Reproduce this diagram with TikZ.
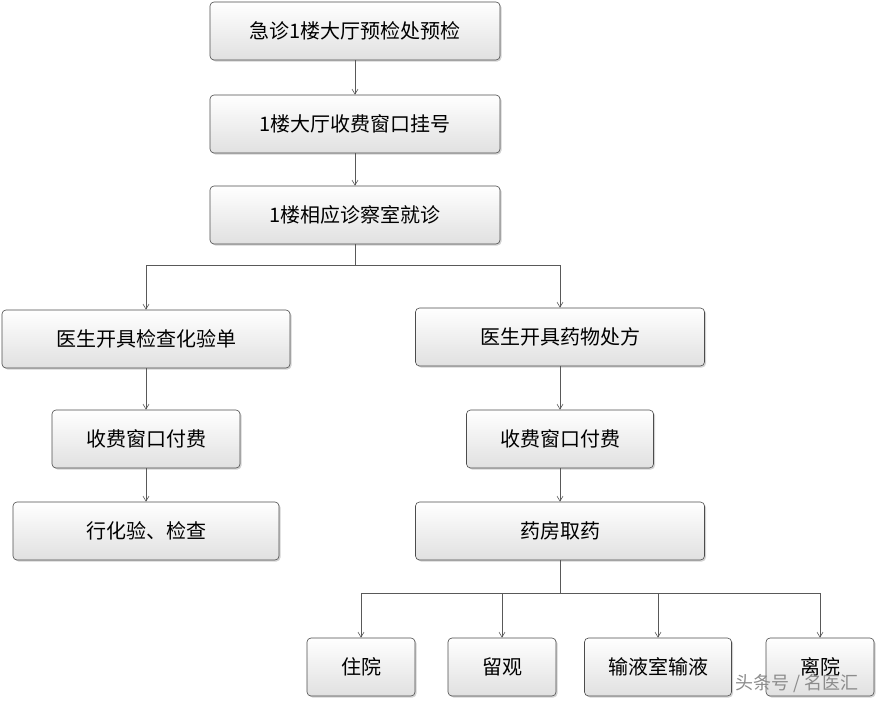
\documentclass[tikz,border=0pt]{standalone}
\usepackage{fontspec}
\setmainfont{Noto Sans CJK SC}
\usetikzlibrary{arrows.meta,shadows}
\begin{document}
\begin{tikzpicture}[x=1pt,y=-1pt,
 box/.style={draw=black!70,line width=0.6pt,rounded corners=4pt,top color=white,bottom color=black!12,
   drop shadow={shadow xshift=1.5pt,shadow yshift=-1.5pt,opacity=0.35},
   minimum height=58pt,inner sep=0pt,font=\fontsize{20}{24}\selectfont},
 arr/.style={draw=black!65,line width=0.6pt,-{Straight Barb[length=5pt,width=6pt]}},
 ln/.style={draw=black!65,line width=0.6pt}]
\useasboundingbox (0,0) rectangle (877,701);
\node[box,minimum width=290pt] (a) at (355,31) {急诊1楼大厅预检处预检};
\node[box,minimum width=290pt] (b) at (355,124) {1楼大厅收费窗口挂号};
\node[box,minimum width=290pt] (c) at (355,215) {1楼相应诊察室就诊};
\node[box,minimum width=288pt] (d) at (146,339) {医生开具检查化验单};
\node[box,minimum width=289pt] (e) at (560,337) {医生开具药物处方};
\node[box,minimum width=188pt] (f) at (146,439) {收费窗口付费};
\node[box,minimum width=266pt] (g) at (146,531) {行化验、检查};
\node[box,minimum width=187pt] (h) at (560,439) {收费窗口付费};
\node[box,minimum width=289pt] (i) at (560,531) {药房取药};
\node[box,minimum width=108pt] (j) at (361,667) {住院};
\node[box,minimum width=108pt] (k) at (502,667) {留观};
\node[box,minimum width=147pt] (l) at (658,667) {输液室输液};
\node[box,minimum width=108pt] (m) at (820,667) {离院};
\coordinate (s1) at (355,265);
\coordinate (s2) at (560,593);
\draw[arr] (a) -- (b);
\draw[arr] (b) -- (c);
\draw[ln] (c.south) -- (s1);
\draw[arr] (s1) -| (d.north);
\draw[arr] (s1) -| (e.north);
\draw[arr] (d) -- (f);
\draw[arr] (f) -- (g);
\draw[arr] (e) -- (h);
\draw[arr] (h) -- (i);
\draw[ln] (i.south) -- (s2);
\draw[arr] (s2) -| (j.north);
\draw[arr] (s2) -| (k.north);
\draw[arr] (s2) -| (l.north);
\draw[arr] (s2) -| (m.north);
\node[text=black!45,font=\fontsize{18}{20}\selectfont,anchor=east] (w) at (862,684) {头条号 / 名医汇};
\end{tikzpicture}
\end{document}
